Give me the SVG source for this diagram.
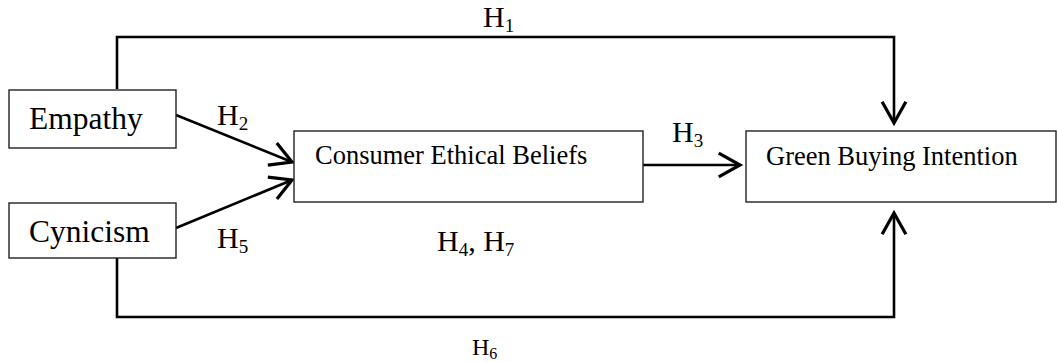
<svg xmlns="http://www.w3.org/2000/svg" width="1057" height="362" viewBox="0 0 1057 362">
<style>
.box{fill:#fff;stroke:#222;stroke-width:1.4}
.lbl{font-family:"Liberation Serif","Times New Roman",serif;fill:#000}
.big{font-size:31.5px}
.mid{font-size:26.5px}
.h{font-size:30px}
.con{fill:none;stroke:#000;stroke-width:2.6}
</style>
<defs>
<marker id="ah" markerUnits="userSpaceOnUse" markerWidth="30" markerHeight="30" viewBox="-20 -12 24 24" refX="0" refY="0" orient="auto">
<path d="M-17,-9.5 L0,0 L-17,9.5" fill="none" stroke="#000" stroke-width="2.6"/>
</marker>
</defs>
<g id="connectors">
<path class="con" d="M117,89 V37 H894 V123" marker-end="url(#ah)"/>
<path class="con" d="M117,258 V317 H894 V213" marker-end="url(#ah)"/>
<line class="con" x1="176" y1="115" x2="292" y2="162" marker-end="url(#ah)"/>
<line class="con" x1="176" y1="228" x2="292" y2="180" marker-end="url(#ah)"/>
<line class="con" x1="643" y1="165" x2="740" y2="165" marker-end="url(#ah)"/>
</g>
<g id="empathy">
<rect class="box" x="9" y="90" width="167" height="58"/>
<text class="lbl big" x="29" y="129">Empathy</text>
</g>
<g id="cynicism">
<rect class="box" x="9" y="203" width="167" height="55"/>
<text class="lbl big" x="29" y="242">Cynicism</text>
</g>
<g id="ceb">
<rect class="box" x="294" y="131" width="349" height="71"/>
<text class="lbl mid" x="315" y="164">Consumer Ethical Beliefs</text>
</g>
<g id="gbi">
<rect class="box" x="746" y="131" width="310" height="71"/>
<text class="lbl mid" x="766" y="165">Green Buying Intention</text>
</g>
<g id="labels">
<text class="lbl h" x="483" y="27">H<tspan font-size="19" dy="5">1</tspan></text>
<text class="lbl h" x="217" y="125">H<tspan font-size="19" dy="5">2</tspan></text>
<text class="lbl h" x="672" y="142">H<tspan font-size="19" dy="5">3</tspan></text>
<text class="lbl h" x="437" y="251">H<tspan font-size="19" dy="5">4</tspan><tspan dy="-5">, H</tspan><tspan font-size="19" dy="5">7</tspan></text>
<text class="lbl h" x="217" y="248">H<tspan font-size="19" dy="5">5</tspan></text>
<text class="lbl" font-size="24" x="472" y="355">H<tspan font-size="16" dy="4">6</tspan></text>
</g>
</svg>
